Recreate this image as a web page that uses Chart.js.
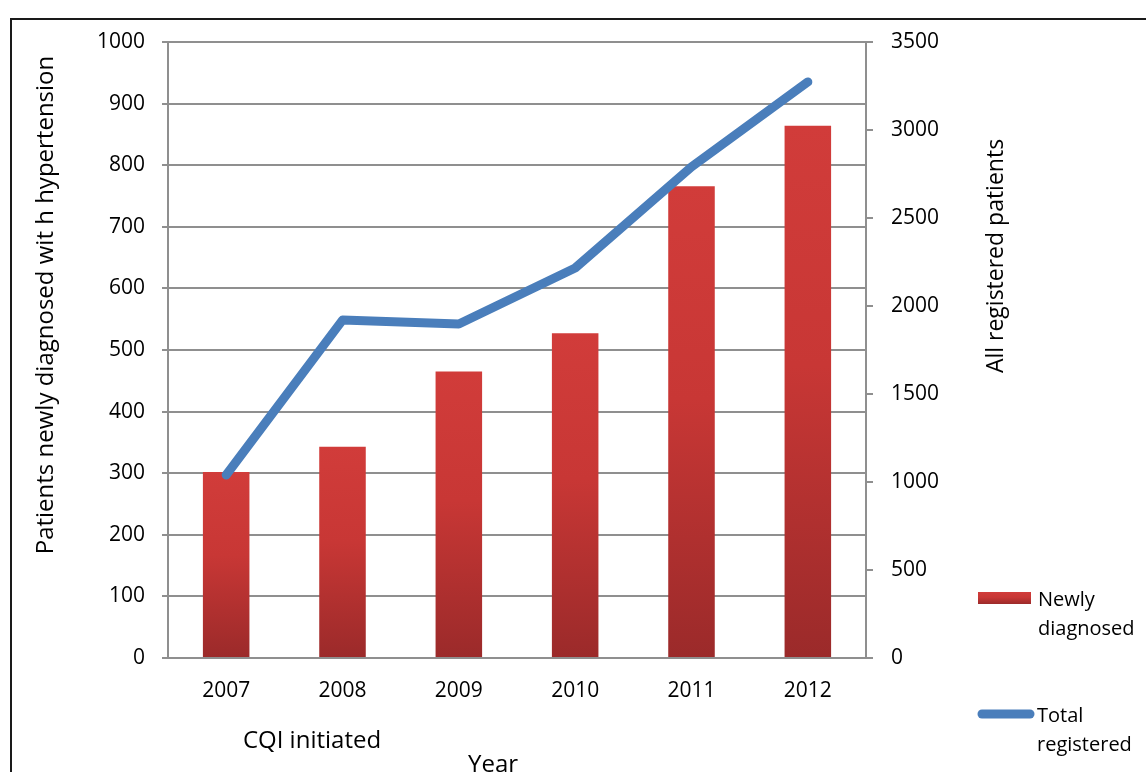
<!DOCTYPE html>
<html>
<head>
<meta charset="utf-8">
<script src="https://cdn.jsdelivr.net/npm/chart.js@4"></script>
<style>
  html, body { margin: 0; padding: 0; background: #fff; }
  #wrap { width: 1146px; height: 772px; position: relative; }
</style>
</head>
<body>
<div id="wrap"><canvas id="c" width="1146" height="772"></canvas></div>
<script>
const years = ['2007', '2008', '2009', '2010', '2011', '2012'];
const newlyDiagnosed = [302, 343, 465, 527, 766, 864];
const totalRegistered = [1040, 1920, 1898, 2216, 2790, 3273];
const leftTicks = [0, 100, 200, 300, 400, 500, 600, 700, 800, 900, 1000];
const rightTicks = [0, 500, 1000, 1500, 2000, 2500, 3000, 3500];

const leftTitle = 'Patients newly diagnosed wit h hypertension';
const rightTitle = 'All registered patients';
const xTitle = 'Year';
const noteText = 'CQI initiated';
const seriesNames = ['Newly diagnosed', 'Total registered'];

const FONT = '"Open Sans", "DejaVu Sans", sans-serif';
const GRID = '#8f8f8f';
const BLUE = '#4a7ebb';

function barGradient(ctx, top, bottom) {
  const g = ctx.createLinearGradient(0, top, 0, bottom);
  g.addColorStop(0, '#d13c3a');
  g.addColorStop(0.45, '#c83735');
  g.addColorStop(1, '#9b2a2a');
  return g;
}

const extras = {
  id: 'extras',
  beforeDraw(chart) {
    const ctx = chart.ctx;
    ctx.save();
    ctx.fillStyle = '#fff';
    ctx.fillRect(0, 0, chart.width, chart.height);
    ctx.strokeStyle = '#1a1a1a';
    ctx.lineWidth = 2;
    ctx.strokeRect(11, 19, 1200, 900);
    ctx.restore();
  },
  afterDraw(chart) {
    const ctx = chart.ctx;
    ctx.save();
    ctx.fillStyle = '#000';
    ctx.textAlign = 'center';
    ctx.textBaseline = 'middle';
    ctx.font = '24px ' + FONT;
    // left axis title
    ctx.save();
    ctx.translate(46, 305);
    ctx.rotate(-Math.PI / 2);
    ctx.fillText(leftTitle, 0, 0);
    ctx.restore();
    // right axis title
    ctx.save();
    ctx.font = '23px ' + FONT;
    ctx.translate(996, 256);
    ctx.rotate(-Math.PI / 2);
    ctx.fillText(rightTitle, 0, 0);
    ctx.restore();
    // x notes
    ctx.fillText(noteText, 312, 741);
    ctx.fillText(xTitle, 493, 765);

    const barDs = chart.data.datasets.find(d => d.type === 'bar');
    const lineDs = chart.data.datasets.find(d => d.type === 'line');

    // legend
    ctx.fillStyle = barGradient(ctx, 592, 604);
    ctx.fillRect(978, 592, 53, 12);
    ctx.strokeStyle = BLUE;
    ctx.lineWidth = 9;
    ctx.lineCap = 'round';
    ctx.beginPath();
    ctx.moveTo(982, 714);
    ctx.lineTo(1030, 714);
    ctx.stroke();
    ctx.fillStyle = '#000';
    ctx.font = '20px ' + FONT;
    ctx.textAlign = 'left';
    ctx.textBaseline = 'alphabetic';
    const l1 = barDs.label.split(' ');
    const l2 = lineDs.label.split(' ');
    ctx.fillText(l1[0], 1038, 606);
    ctx.fillText(l1[1], 1038, 635);
    ctx.fillText(l2[0], 1037, 722);
    ctx.fillText(l2[1], 1037, 751);
    ctx.restore();
  }
};

const plainTick = (v) => String(v);

new Chart(document.getElementById('c'), {
  type: 'bar',
  data: {
    labels: years,
    datasets: [
      {
        type: 'line',
        label: seriesNames[1],
        data: totalRegistered,
        yAxisID: 'y1',
        borderColor: BLUE,
        backgroundColor: BLUE,
        borderWidth: 9,
        borderCapStyle: 'round',
        borderJoinStyle: 'round',
        pointRadius: 0,
        pointHoverRadius: 0,
        tension: 0,
        order: 1
      },
      {
        type: 'bar',
        label: seriesNames[0],
        data: newlyDiagnosed,
        yAxisID: 'y',
        backgroundColor: (c) => {
          const chart = c.chart;
          if (!chart.chartArea || c.parsed === undefined || c.parsed.y === undefined) return '#c83735';
          const ys = chart.scales.y;
          const top = ys.getPixelForValue(c.parsed.y);
          const bottom = ys.getPixelForValue(0);
          return barGradient(chart.ctx, top, bottom);
        },
        borderWidth: 0,
        barPercentage: 0.4,
        categoryPercentage: 1.0,
        order: 2
      }
    ]
  },
  options: {
    responsive: false,
    animation: false,
    events: [],
    layout: { padding: { top: 42, left: 0, right: 0, bottom: 0 } },
    plugins: { legend: { display: false }, tooltip: { enabled: false } },
    scales: {
      x: {
        afterFit: (s) => { s.height = 114; },
        grid: { display: false, drawTicks: false },
        border: { display: true, color: GRID, width: 2 },
        ticks: { color: '#000', font: { family: FONT, size: 21 }, padding: 20 }
      },
      y: {
        position: 'left',
        min: 0, max: 1000,
        afterFit: (s) => { s.width = 168; },
        afterBuildTicks: (s) => { s.ticks = leftTicks.map(v => ({ value: v })); },
        grid: { color: GRID, lineWidth: 2, tickLength: 6 },
        border: { display: true, color: GRID, width: 2 },
        ticks: { color: '#000', font: { family: FONT, size: 21 }, padding: 17, callback: plainTick }
      },
      y1: {
        position: 'right',
        min: 0, max: 3500,
        afterFit: (s) => { s.width = 280; },
        afterBuildTicks: (s) => { s.ticks = rightTicks.map(v => ({ value: v })); },
        grid: { drawOnChartArea: false, color: GRID, lineWidth: 2, tickLength: 7 },
        border: { display: true, color: GRID, width: 2 },
        ticks: { color: '#000', font: { family: FONT, size: 21 }, padding: 18, callback: plainTick }
      }
    }
  },
  plugins: [extras]
});
</script>
</body>
</html>
